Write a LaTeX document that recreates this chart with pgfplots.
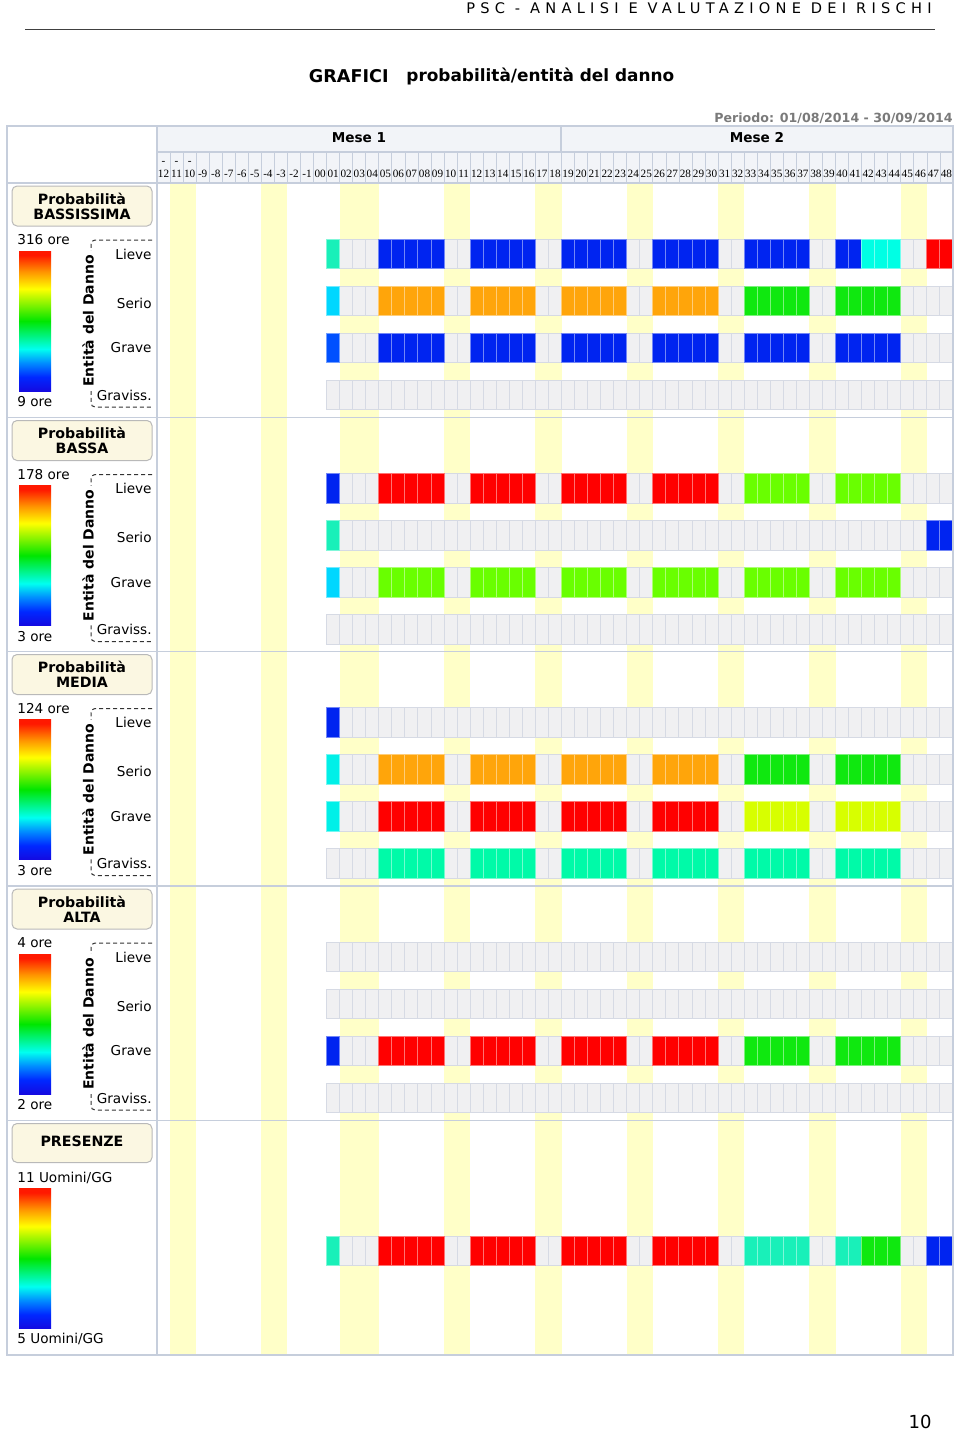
\documentclass[border=0pt]{standalone}
\usepackage{fontspec}
\setmainfont{DejaVu Sans}
\newfontfamily\dayfont{Liberation Serif}
\newfontfamily\headfont[LetterSpace=36]{DejaVu Sans}
\usepackage{pgfplots}
\usepackage{pgfplotstable}
\pgfplotsset{compat=1.18}

\definecolor{yel}{RGB}{255,255,200}
\definecolor{cgrey}{RGB}{240,240,242}
\definecolor{cgline}{RGB}{214,218,228}
\definecolor{gridc}{RGB}{198,206,220}
\definecolor{headfill}{RGB}{242,244,248}
\definecolor{boxfill}{RGB}{251,247,226}
\definecolor{boxline}{RGB}{185,185,185}
\definecolor{kA}{RGB}{0,36,240}
\definecolor{kB}{RGB}{0,80,255}
\definecolor{kC}{RGB}{0,215,255}
\definecolor{kD}{RGB}{0,240,232}
\definecolor{kE}{RGB}{25,240,185}
\definecolor{kF}{RGB}{15,232,15}
\definecolor{kG}{RGB}{105,255,0}
\definecolor{kH}{RGB}{215,255,0}
\definecolor{kI}{RGB}{255,165,10}
\definecolor{kJ}{RGB}{255,0,0}
\definecolor{kK}{RGB}{0,250,168}
\definecolor{kL}{RGB}{0,255,228}
\definecolor{rb0}{RGB}{20,10,225}
\definecolor{rb}{RGB}{0,40,255}
\definecolor{raz}{RGB}{0,140,255}
\definecolor{rc}{RGB}{0,255,240}
\definecolor{rg}{RGB}{0,230,0}
\definecolor{ry}{RGB}{255,255,0}
\definecolor{ro}{RGB}{255,150,0}
\definecolor{rr}{RGB}{255,25,0}

% TikZ maps the central 50bp of a shading onto the path
\pgfdeclareverticalshading{ramp}{100bp}{color(0bp)=(rb0); color(25bp)=(rb0); color(30bp)=(rb); color(35bp)=(raz); color(40bp)=(rc); color(50bp)=(rg); color(61.5bp)=(ry); color(67.5bp)=(ro); color(73.5bp)=(rr); color(100bp)=(rr)}

\pgfdeclareplotmark{cell}{%
  \pgfpathrectangle{\pgfpoint{-3.2625pt}{-7.375pt}}{\pgfpoint{6.525pt}{14.75pt}}%
  \pgfusepathqfillstroke}

\tikzset{every node/.style={inner sep=0pt}}
\pgfplotsset{
  greycells/.style={only marks, mark=cell, mark options={fill=cgrey, draw=cgline, line width=0.5pt}},
}
% #1 table column (chart row), #2 row position, #3 colour class, #4 colour
\newcommand\cellplot[4]{%
  \addplot[only marks, mark=cell, mark options={fill=#4, draw=#4!55!white, line width=0.5pt}]
    table[x=x, y expr={\thisrow{#1}==#3 ? #2 : 5000}] {\cells};}

% colour class of each cell (0 = none): x = day column, one column per chart row
\pgfplotstableread{
x a1 a2 a3 b1 b2 b3 c1 c2 c3 c4 d3 p
1 5 3 2 1 5 3 1 4 4 0 1 5
2 0 0 0 0 0 0 0 0 0 0 0 0
3 0 0 0 0 0 0 0 0 0 0 0 0
4 0 0 0 0 0 0 0 0 0 0 0 0
5 1 9 1 10 0 7 0 9 10 11 10 10
6 1 9 1 10 0 7 0 9 10 11 10 10
7 1 9 1 10 0 7 0 9 10 11 10 10
8 1 9 1 10 0 7 0 9 10 11 10 10
9 1 9 1 10 0 7 0 9 10 11 10 10
10 0 0 0 0 0 0 0 0 0 0 0 0
11 0 0 0 0 0 0 0 0 0 0 0 0
12 1 9 1 10 0 7 0 9 10 11 10 10
13 1 9 1 10 0 7 0 9 10 11 10 10
14 1 9 1 10 0 7 0 9 10 11 10 10
15 1 9 1 10 0 7 0 9 10 11 10 10
16 1 9 1 10 0 7 0 9 10 11 10 10
17 0 0 0 0 0 0 0 0 0 0 0 0
18 0 0 0 0 0 0 0 0 0 0 0 0
19 1 9 1 10 0 7 0 9 10 11 10 10
20 1 9 1 10 0 7 0 9 10 11 10 10
21 1 9 1 10 0 7 0 9 10 11 10 10
22 1 9 1 10 0 7 0 9 10 11 10 10
23 1 9 1 10 0 7 0 9 10 11 10 10
24 0 0 0 0 0 0 0 0 0 0 0 0
25 0 0 0 0 0 0 0 0 0 0 0 0
26 1 9 1 10 0 7 0 9 10 11 10 10
27 1 9 1 10 0 7 0 9 10 11 10 10
28 1 9 1 10 0 7 0 9 10 11 10 10
29 1 9 1 10 0 7 0 9 10 11 10 10
30 1 9 1 10 0 7 0 9 10 11 10 10
31 0 0 0 0 0 0 0 0 0 0 0 0
32 0 0 0 0 0 0 0 0 0 0 0 0
33 1 6 1 7 0 7 0 6 8 11 6 5
34 1 6 1 7 0 7 0 6 8 11 6 5
35 1 6 1 7 0 7 0 6 8 11 6 5
36 1 6 1 7 0 7 0 6 8 11 6 5
37 1 6 1 7 0 7 0 6 8 11 6 5
38 0 0 0 0 0 0 0 0 0 0 0 0
39 0 0 0 0 0 0 0 0 0 0 0 0
40 1 6 1 7 0 7 0 6 8 11 6 5
41 1 6 1 7 0 7 0 6 8 11 6 5
42 12 6 1 7 0 7 0 6 8 11 6 6
43 12 6 1 7 0 7 0 6 8 11 6 6
44 12 6 1 7 0 7 0 6 8 11 6 6
45 0 0 0 0 0 0 0 0 0 0 0 0
46 0 0 0 0 0 0 0 0 0 0 0 0
47 10 0 0 0 1 0 0 0 0 0 0 1
48 10 0 0 0 1 0 0 0 0 0 0 1
}\cells

\newcommand\probpanel[5]{%
\begin{scope}[shift={(0,#1)}]
 \draw[boxline, fill=boxfill, rounded corners=2.5pt, line width=0.5pt] (12,3) rectangle (152,43);
 \node[font=\bfseries\fontsize{7.1}{7.5}\selectfont, align=center] at (82,23) {#2\\#3};
 \node[anchor=west, font=\fontsize{6.8}{8}\selectfont] at (17,57) {#4};
 \shade[shading=ramp] (19,68) rectangle (51,208);
 \node[anchor=west, font=\fontsize{6.8}{8}\selectfont] at (17,219) {#5};
 \draw[black!80, dash pattern=on 2pt off 1.5pt, line width=0.5pt, rounded corners=2pt] (152,57) -- (91,57) -- (91,224) -- (152,224);
 \node[rotate=90, fill=white, inner xsep=2pt, font=\bfseries\fontsize{7}{8}\selectfont] at (88,138) {Entità del Danno};
 \node[anchor=east, font=\fontsize{6.8}{8}\selectfont] at (152,71) {Lieve};
 \node[anchor=east, font=\fontsize{6.8}{8}\selectfont] at (152,120) {Serio};
 \node[anchor=east, font=\fontsize{6.8}{8}\selectfont] at (152,165) {Grave};
 \node[anchor=east, font=\fontsize{6.8}{8}\selectfont] at (152,212) {Graviss.};
\end{scope}}

\begin{document}
\begin{tikzpicture}
\begin{scope}[x=0.5pt,y=-0.5pt]
\useasboundingbox (0,0) rectangle (960,1431);
\node[anchor=east, font=\headfont\fontsize{7.3}{8}\selectfont] at (932,8) {PSC - ANALISI E VALUTAZIONE DEI RISCHI};
\draw[black!75, line width=0.5pt] (25,29) -- (935,29);
\node[anchor=east, font=\bfseries\fontsize{8.8}{10}\selectfont] at (389,76) {GRAFICI};
\node[anchor=west, font=\bfseries\fontsize{8.45}{10}\selectfont] at (406,76) {probabilità/entità del danno};
\node[anchor=east, font=\bfseries\fontsize{6.3}{7}\selectfont, text=black!52] at (953,118) {Periodo: 01/08/2014 - 30/09/2014};
\fill[headfill] (157,126) rectangle (953,183);
\end{scope}

\begin{axis}[at={(78.5pt,-91.5pt)}, anchor=north west, scale only axis,
  width=398pt, height=586pt, xmin=-12.5, xmax=48.5, ymin=183, ymax=1355,
  y dir=reverse, hide axis, clip=false, restrict y to domain=0:2000]
\fill[yel] (axis cs:-11.5,184) rectangle (axis cs:-9.5,1355);
\fill[yel] (axis cs:-4.5,184) rectangle (axis cs:-2.5,1355);
\fill[yel] (axis cs:1.5,184) rectangle (axis cs:4.5,1355);
\fill[yel] (axis cs:9.5,184) rectangle (axis cs:11.5,1355);
\fill[yel] (axis cs:16.5,184) rectangle (axis cs:18.5,1355);
\fill[yel] (axis cs:23.5,184) rectangle (axis cs:25.5,1355);
\fill[yel] (axis cs:30.5,184) rectangle (axis cs:32.5,1355);
\fill[yel] (axis cs:37.5,184) rectangle (axis cs:39.5,1355);
\fill[yel] (axis cs:44.5,184) rectangle (axis cs:46.5,1355);
\pgfplotsinvokeforeach{253.75,300.75,347.75,395,488.25,535.25,582.25,629.5,722.25,769.25,816.25,863.5,956.75,1003.75,1050.75,1098,1251}{
  \addplot[greycells] table[x=x, y expr=#1] {\cells};
}
% Probabilita BASSISSIMA
\cellplot{a1}{253.75}{5}{kE}\cellplot{a1}{253.75}{1}{kA}\cellplot{a1}{253.75}{12}{kL}\cellplot{a1}{253.75}{10}{kJ}
\cellplot{a2}{300.75}{3}{kC}\cellplot{a2}{300.75}{9}{kI}\cellplot{a2}{300.75}{6}{kF}
\cellplot{a3}{347.75}{2}{kB}\cellplot{a3}{347.75}{1}{kA}
% Probabilita BASSA
\cellplot{b1}{488.25}{1}{kA}\cellplot{b1}{488.25}{10}{kJ}\cellplot{b1}{488.25}{7}{kG}
\cellplot{b2}{535.25}{5}{kE}\cellplot{b2}{535.25}{1}{kA}
\cellplot{b3}{582.25}{3}{kC}\cellplot{b3}{582.25}{7}{kG}
% Probabilita MEDIA
\cellplot{c1}{722.25}{1}{kA}
\cellplot{c2}{769.25}{4}{kD}\cellplot{c2}{769.25}{9}{kI}\cellplot{c2}{769.25}{6}{kF}
\cellplot{c3}{816.25}{4}{kD}\cellplot{c3}{816.25}{10}{kJ}\cellplot{c3}{816.25}{8}{kH}
\cellplot{c4}{863.5}{11}{kK}
% Probabilita ALTA
\cellplot{d3}{1050.75}{1}{kA}\cellplot{d3}{1050.75}{10}{kJ}\cellplot{d3}{1050.75}{6}{kF}
% PRESENZE
\cellplot{p}{1251}{5}{kE}\cellplot{p}{1251}{10}{kJ}\cellplot{p}{1251}{6}{kF}\cellplot{p}{1251}{1}{kA}
\end{axis}

\begin{scope}[x=0.5pt,y=-0.5pt]
\foreach \i in {1,...,60}{
  \pgfmathsetmacro\lx{157+\i*13.04918}
  \draw[gridc, line width=0.4pt] (\lx,152) -- (\lx,183);
}
\foreach \i in {0,...,60}{
  \pgfmathtruncatemacro\dd{\i-12}
  \pgfmathsetmacro\cx{157+(\i+0.5)*13.04918}
  \ifnum\dd<-9\relax
    \pgfmathtruncatemacro\ad{-\dd}
    \node[font=\dayfont\fontsize{5.6}{6}\selectfont] at (\cx,163) {-};
    \node[font=\dayfont\fontsize{5.6}{6}\selectfont] at (\cx,174) {\ad};
  \else
    \ifnum\dd<0\relax
      \node[font=\dayfont\fontsize{5.6}{6}\selectfont] at (\cx,174) {\dd};
    \else
      \ifnum\dd<10\relax
        \node[font=\dayfont\fontsize{5.6}{6}\selectfont] at (\cx,174) {0\dd};
      \else
        \node[font=\dayfont\fontsize{5.6}{6}\selectfont] at (\cx,174) {\dd};
      \fi
    \fi
  \fi
}
\draw[gridc, line width=0.6pt] (157,152) -- (953,152);
\draw[gridc, line width=0.6pt] (561,126) -- (561,152);
\draw[gridc, line width=0.8pt] (7,183) -- (953,183);
\draw[gridc, line width=0.8pt] (157,126) -- (157,1355);
\foreach \yy in {417.5,651.5,886,1120.5}{
  \draw[gridc, line width=0.8pt] (7,\yy) -- (953,\yy);
}
\draw[gridc, line width=0.8pt] (7,126) rectangle (953,1355);
\node[font=\bfseries\fontsize{6.8}{8}\selectfont] at (359,138) {Mese 1};
\node[font=\bfseries\fontsize{6.8}{8}\selectfont] at (757,138) {Mese 2};
\probpanel{183}{Probabilità}{BASSISSIMA}{316 ore}{9 ore}
\probpanel{417.5}{Probabilità}{BASSA}{178 ore}{3 ore}
\probpanel{651.5}{Probabilità}{MEDIA}{124 ore}{3 ore}
\probpanel{886}{Probabilità}{ALTA}{4 ore}{2 ore}
\begin{scope}[shift={(0,1120.5)}]
 \draw[boxline, fill=boxfill, rounded corners=2.5pt, line width=0.5pt] (12,3) rectangle (152,42);
 \node[font=\bfseries\fontsize{7.1}{7.5}\selectfont] at (82,21) {PRESENZE};
 \node[anchor=west, font=\fontsize{6.8}{8}\selectfont] at (17,57) {11 Uomini/GG};
 \shade[shading=ramp] (19,68) rectangle (51,208);
 \node[anchor=west, font=\fontsize{6.8}{8}\selectfont] at (17,218) {5 Uomini/GG};
\end{scope}
\node[anchor=east, font=\fontsize{9}{10}\selectfont] at (932,1422) {10};
\end{scope}
\end{tikzpicture}
\end{document}
